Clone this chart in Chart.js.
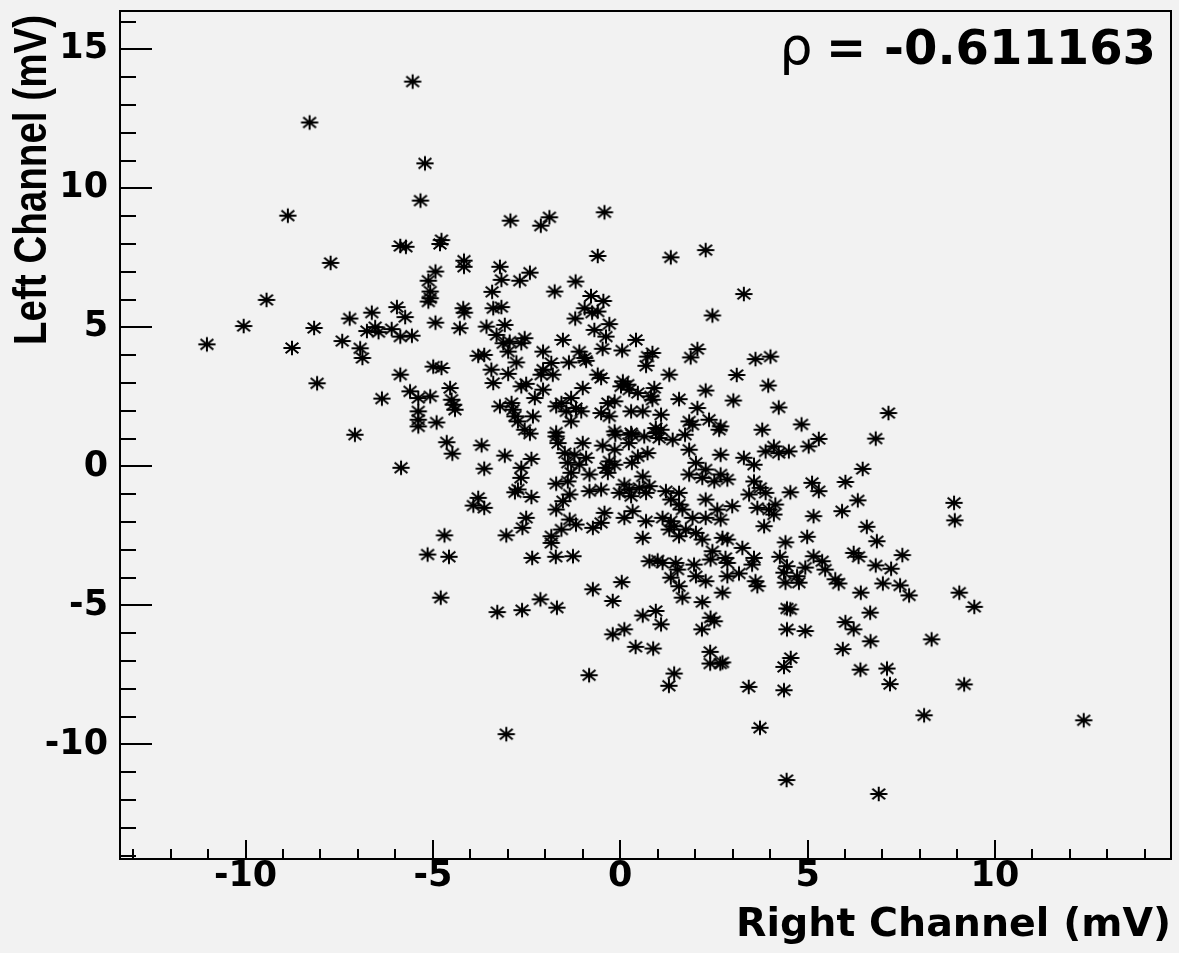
<!DOCTYPE html>
<html>
<head>
<meta charset="utf-8">
<script src="https://cdn.jsdelivr.net/npm/chart.js@4/dist/chart.umd.min.js"></script>
<style>
html,body{margin:0;padding:0;background:#f2f2f2;}
#wrap{width:1179px;height:953px;position:relative;}
canvas{display:block;}
</style>
</head>
<body>
<div id="wrap"><canvas id="c" width="1179" height="953"></canvas></div>
<script>
// Right channel (x, mV) values
const rightChannel = [
-5.54,-8.29,-5.21,-5.33,-8.87,-2.93,-2.12,-1.89,-0.42,
-10.05,-11.03,-8.17,-8.76,-7.22,-6.63,-7.42,-6.94,-6.88,-6.76,-6.54,-6.45,-8.09,-7.08,-6.36,-7.73,-9.44,
-5.87,-5.72,-4.77,-4.81,-4.17,-4.17,-3.21,-3.17,-2.41,-2.68,-3.42,-4.93,-5.12,-5.07,-5.07,-5.12,-5.96,-5.74,-6.10,-5.87,-5.56,-4.93,-4.19,-4.16,-4.28,-3.39,-3.17,-3.57,-3.08,-3.30,-3.12,-2.95,-2.55,-2.64,-2.99,-3.79,-3.63,-2.06,-4.99,-4.77,-5.87,-2.77,-3.44,-2.99,-3.39,-2.06,-2.11,-2.51,-2.64,-2.06,-2.28,-4.54,-5.61,-5.39,-5.07,-4.50,-4.45,-4.41,-5.39,-5.39,-5.39,-4.90,-3.21,-2.90,-2.86,-2.81,-2.73,-2.33,-2.55,
-0.60,1.35,2.28,-1.19,-1.75,3.30,2.46,
-0.78,-0.45,-0.95,-0.75,-0.60,-1.20,-0.29,-0.69,-0.38,-1.53,0.42,-0.47,0.05,0.86,0.73,0.69,2.06,1.88,-1.09,-0.95,-0.91,-1.37,-1.84,-1.80,-0.60,-0.51,1.31,-1.00,0.07,0.20,0.02,0.24,0.47,0.91,0.82,0.86,1.57,2.28,-1.31,-1.57,-1.71,-1.18,-1.04,-1.44,-1.31,-0.33,-0.15,-0.51,-0.29,0.29,0.60,1.09,2.06,1.84,1.93,2.37,-1.71,-0.15,0.29,0.95,1.09,
3.61,4.01,3.11,3.95,3.02,4.23,4.84,2.68,2.64,3.79,
7.16,6.82,8.91,8.93,6.85,7.53,6.82,7.23,7.01,7.47,7.71,9.05,9.45,8.31,
-4.63,-4.48,-3.70,-5.85,-3.63,-3.08,-2.41,-2.37,-2.64,-2.65,-2.73,-2.81,-2.37,-3.79,-3.92,-3.63,-2.51,-2.61,-3.04,-4.69,-5.14,-4.57,-2.35,-4.79,-3.28,-2.62,-2.13,
-1.71,-1.66,-1.00,-0.47,-0.13,0.31,0.23,0.64,0.95,1.04,1.40,1.73,1.84,-1.48,-1.22,-1.40,-0.91,-1.09,-0.15,-0.29,-0.38,-0.15,0.31,0.73,0.47,2.02,2.28,2.19,1.84,-1.31,-1.40,-1.71,-0.82,-0.82,-0.51,-0.33,0.60,0.11,0.24,-0.02,0.29,0.51,0.69,0.78,1.22,1.35,1.57,1.57,1.66,2.28,-1.53,-1.71,-1.35,-0.42,-0.51,0.11,0.33,0.69,1.13,1.35,1.44,1.31,1.57,1.75,1.93,2.28,2.02,2.19,-1.35,-1.18,-1.57,-0.73,-1.84,-1.84,0.60,-1.72,-1.26,0.78,1.00,1.13,1.48,1.53,1.35,1.57,1.97,2.02,2.28,1.66,2.19,0.04,-0.73,-0.20,-1.69,0.60,0.95,1.09,0.11,-0.20,2.18,2.41,
5.30,5.03,2.68,3.30,3.57,3.88,4.10,4.23,4.50,2.68,2.86,2.51,3.57,3.74,3.88,3.44,4.54,5.12,5.30,6.01,6.47,6.34,5.92,5.16,2.99,2.59,2.68,3.66,3.97,4.14,4.10,3.84,6.58,2.86,2.73,3.26,4.41,4.99,2.46,2.41,2.81,2.86,3.57,3.52,4.26,5.16,5.39,5.47,3.17,2.86,4.45,4.37,4.72,4.94,4.41,4.77,3.61,3.66,5.74,5.83,6.23,6.36,6.42,2.73,6.67,2.51,4.45,4.54,4.45,4.94,6.01,6.23,
0.88,2.40,2.40,2.67,2.73,1.44,1.30,3.43,4.37,4.55,4.37,5.94,6.41,7.12,7.20,6.68,9.18,8.11,12.37,3.73,4.44,6.90,
-3.04,-0.83,0.41
];
// Left channel (y, mV) values, same order
const leftChannel = [
13.84,12.37,10.90,9.56,9.02,8.84,8.66,8.96,9.14,
5.05,4.39,4.98,4.26,5.32,5.53,4.51,4.25,3.90,4.87,5.01,4.83,2.99,1.14,2.44,7.32,5.99,
7.93,7.90,8.14,8.00,7.40,7.18,7.18,6.71,6.97,6.68,6.28,7.01,6.68,6.29,6.05,5.93,5.73,5.37,4.94,4.67,4.70,5.17,5.69,5.53,4.97,5.69,5.73,5.03,5.09,4.73,4.43,4.49,4.61,4.43,4.13,3.98,4.01,4.13,3.59,3.54,3.30,3.74,3.48,3.33,3.00,3.48,3.30,2.97,2.88,2.76,2.46,2.82,2.70,2.46,2.52,2.40,2.22,2.04,1.98,1.68,1.44,1.58,2.16,2.28,2.04,1.80,1.62,1.80,1.32,
7.57,7.52,7.78,6.65,6.29,6.20,5.43,
6.13,5.95,5.69,5.53,5.57,5.32,5.12,4.91,4.67,4.55,4.55,4.23,4.17,4.08,3.95,3.62,4.22,3.92,4.13,3.90,3.80,3.74,3.72,3.30,3.30,3.18,3.30,2.82,3.06,2.94,2.88,2.76,2.64,2.82,2.52,2.40,2.42,2.73,2.46,2.28,2.16,2.10,1.98,1.98,1.62,2.28,2.34,1.92,1.80,1.98,1.98,1.86,2.10,1.62,1.50,1.68,1.22,1.26,1.20,1.38,1.32,
3.86,3.95,3.29,2.91,2.37,2.12,1.51,1.44,1.32,1.32,
1.92,1.00,-1.31,-1.94,-2.69,-3.19,-3.56,-3.68,-4.21,-4.28,-4.64,-4.54,-5.05,-6.22,
0.87,0.46,0.76,-0.05,-0.08,0.39,1.18,0.27,-0.05,-0.41,-0.83,-0.93,-1.10,-1.13,-1.41,-1.49,-1.85,-2.21,-2.48,-2.48,-3.17,-3.25,-3.29,-4.72,-5.24,-5.17,-4.78,
1.08,0.84,0.84,0.75,1.14,1.14,0.84,1.08,1.20,1.02,0.96,1.14,0.60,0.48,0.42,0.13,0.31,0.06,0.60,0.18,-0.05,0.06,0.13,0.48,0.36,0.13,-0.11,-0.41,-0.29,-0.23,-0.54,-0.62,-0.29,-0.89,-0.83,-0.23,-0.36,-0.65,-0.83,-0.95,-1.07,-0.77,-0.95,-0.71,-0.89,-1.19,-0.95,-1.37,-1.55,-1.19,-1.25,-1.55,-1.01,-1.67,-2.03,-1.85,-1.61,-1.97,-1.85,-1.97,-2.15,-2.27,-2.51,-2.27,-1.85,-1.85,-2.39,-2.63,-1.91,-2.09,-2.27,-2.21,-2.51,-2.75,-2.57,-3.25,-3.23,-3.41,-3.38,-3.47,-3.47,-3.71,-4.00,-4.31,-3.53,-3.95,-4.13,-4.72,-4.88,-4.16,-4.42,-4.84,-5.08,-5.36,-5.20,-5.68,-5.86,-6.04,-5.86,-5.44,
0.99,0.72,0.42,0.31,0.06,0.54,0.72,0.48,0.54,-0.29,-0.47,-0.54,-0.54,-0.77,-0.95,-1.01,-0.93,-0.59,-0.89,-0.56,-0.09,-1.22,-1.61,-1.79,-1.43,-1.55,-1.91,-1.49,-1.55,-1.37,-1.73,-2.15,-2.17,-2.63,-2.57,-2.93,-2.73,-2.53,-3.05,-3.35,-3.29,-3.47,-3.29,-3.53,-3.25,-3.23,-3.41,-3.71,-3.85,-3.95,-3.59,-3.82,-3.95,-3.64,-4.18,-4.18,-4.13,-4.31,-4.06,-4.21,-3.11,-3.25,-4.54,-4.54,-5.26,-5.57,-5.11,-5.14,-5.86,-5.92,-5.60,-5.86,
-6.55,-6.67,-7.09,-7.09,-7.05,-7.45,-7.89,-7.93,-7.21,-6.89,-8.05,-6.57,-7.31,-7.27,-7.83,-6.29,-7.84,-8.95,-9.13,-9.40,-11.28,-11.78,
-9.63,-7.51,-6.49
];
const xTickValues = [-10, -5, 0, 5, 10];
const yTickValues = [-10, -5, 0, 5, 10, 15];
const xRange = [-13.35, 14.7];
const yRange = [-14.12, 16.38];
const xTitle = 'Right Channel (mV)';
const yTitle = 'Left Channel (mV)';
const rhoSymbol = 'ρ';
const rhoValue = '-0.611163';

const points = rightChannel.map((x, i) => ({x: x, y: leftChannel[i]}));
const FONT = 'DejaVu Sans';

// asterisk marker (slightly wider than tall, as in the reference)
function makeStar() {
  const c = document.createElement('canvas');
  c.width = 20; c.height = 18;
  const g = c.getContext('2d');
  const cx = 10, cy = 9;
  g.strokeStyle = '#000';
  g.lineWidth = 2;
  g.beginPath();
  g.moveTo(cx - 8.6, cy); g.lineTo(cx + 8.6, cy);
  g.moveTo(cx, cy - 7.2); g.lineTo(cx, cy + 7.2);
  g.moveTo(cx - 6.4, cy - 5.3); g.lineTo(cx + 6.4, cy + 5.3);
  g.moveTo(cx - 6.4, cy + 5.3); g.lineTo(cx + 6.4, cy - 5.3);
  g.stroke();
  return c;
}
const starMarker = makeStar();

const bgPlugin = {
  id: 'bg',
  beforeDraw(chart) {
    const ctx = chart.ctx;
    ctx.save();
    ctx.fillStyle = '#f2f2f2';
    ctx.fillRect(0, 0, chart.width, chart.height);
    ctx.restore();
  }
};

const framePlugin = {
  id: 'frame',
  afterDraw(chart) {
    const ctx = chart.ctx;
    const a = chart.chartArea;
    const xs = chart.scales.x, ys = chart.scales.y;
    ctx.save();
    ctx.strokeStyle = '#000';
    ctx.lineWidth = 2;
    ctx.strokeRect(a.left, a.top, a.right - a.left, a.bottom - a.top);
    ctx.beginPath();
    for (let v = Math.ceil(ys.min); v <= Math.floor(ys.max); v++) {
      const py = Math.round(ys.getPixelForValue(v));
      const len = (v % 5 === 0) ? 32 : 16;
      ctx.moveTo(a.left, py);
      ctx.lineTo(a.left + len, py);
    }
    for (let v = Math.ceil(xs.min); v <= Math.floor(xs.max); v++) {
      const px = Math.round(xs.getPixelForValue(v));
      const len = (v % 5 === 0) ? 19 : 10;
      ctx.moveTo(px, a.bottom);
      ctx.lineTo(px, a.bottom - len);
    }
    ctx.stroke();

    ctx.fillStyle = '#000';
    // y axis title (rotated, end aligned with the top of the frame)
    ctx.save();
    ctx.translate(33, a.top + 4);
    ctx.rotate(-Math.PI / 2);
    ctx.textAlign = 'right';
    ctx.textBaseline = 'middle';
    ctx.font = 'bold 47px "Liberation Sans"';
    ctx.fillText(yTitle, 0, 0, 330);
    ctx.restore();

    // correlation label
    ctx.textBaseline = 'alphabetic';
    ctx.textAlign = 'right';
    ctx.font = 'bold 48px "' + FONT + '"';
    ctx.fillText(rhoValue, 1156, 64);
    ctx.textAlign = 'center';
    ctx.fillText('=', 846, 64);
    ctx.font = '52px "' + FONT + '"';
    ctx.fillText(rhoSymbol, 796, 64);
    ctx.restore();
  }
};

new Chart(document.getElementById('c'), {
  type: 'scatter',
  data: {
    datasets: [{
      data: points,
      showLine: false,
      pointStyle: starMarker,
      pointRadius: 8,
      pointHoverRadius: 8,
      pointBorderWidth: 0,
      pointBorderColor: '#000',
      pointBackgroundColor: '#000',
      borderColor: '#000',
      backgroundColor: '#000'
    }]
  },
  options: {
    responsive: false,
    animation: false,
    devicePixelRatio: 1,
    events: [],
    layout: {padding: {left: 0, right: 4, top: 11, bottom: 0}},
    plugins: {legend: {display: false}, tooltip: {enabled: false}},
    scales: {
      x: {
        type: 'linear', position: 'bottom',
        min: xRange[0], max: xRange[1],
        grid: {display: false, drawTicks: false},
        border: {display: false},
        afterBuildTicks: s => { s.ticks = xTickValues.map(v => ({value: v})); },
        afterFit: s => { s.height = 94; s.paddingLeft = 0; s.paddingRight = 0; },
        ticks: {
          autoSkip: false, maxRotation: 0, padding: -3, color: '#000',
          font: {family: FONT, weight: 'bold', size: 35},
          callback: v => String(v)
        },
        title: {
          display: true, text: xTitle, align: 'end', color: '#000',
          font: {family: FONT, weight: 'bold', size: 39.5},
          padding: {top: 0, bottom: 4}
        }
      },
      y: {
        type: 'linear', position: 'left',
        min: yRange[0], max: yRange[1],
        grid: {display: false, drawTicks: false},
        border: {display: false},
        afterBuildTicks: s => { s.ticks = yTickValues.map(v => ({value: v})); },
        afterFit: s => { s.width = 120; s.paddingTop = 0; s.paddingBottom = 0; },
        ticks: {
          autoSkip: false, padding: 12, color: '#000',
          font: {family: FONT, weight: 'bold', size: 35},
          callback: v => String(v)
        },
        title: {display: false, text: yTitle}
      }
    }
  },
  plugins: [bgPlugin, framePlugin]
});
</script>
</body>
</html>
